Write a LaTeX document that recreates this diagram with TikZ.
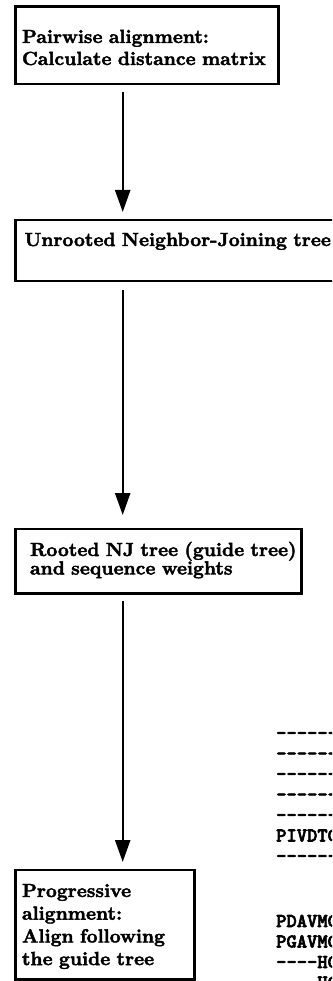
\documentclass[tikz,border=0pt]{standalone}
\usepackage{fontspec}
\newfontfamily\stepfont{lmroman10-bold}[Extension=.otf, FakeBold=2.2]
\newfontfamily\seqfont{lmmonolt10-bold}[Extension=.otf, Ligatures=TeXOff, FakeBold=3]
\usetikzlibrary{arrows.meta, positioning}

\begin{document}
\begin{tikzpicture}[
                        x=1pt, y=1pt,
                        stepbox/.style={
                                rectangle, draw, line width=2.6pt,
                                outer sep=0pt, inner ysep=0pt,
                                align=left,
                                font=\fontsize{19}{22}\selectfont\stepfont
                            },
                        flow/.style={-{Triangle[length=22pt, width=15pt]}, line width=2.4pt},
                        seq/.style={
                                anchor=base west, inner sep=0pt, text width=80pt,
                                align=left,
                                font=\fontsize{19.6}{20.5}\selectfont\seqfont
                            }
                    ]

                    % ===== Page frame =====
                    \path[use as bounding box, fill=white] (0,0) rectangle (332,-981);
                    \clip (0,0) rectangle (332,-981);

                    % ===== Steps (left column) =====
                    \node[stepbox, anchor=north west, inner xsep=6.5pt, text width=250pt,
                    text height=36.5pt, text depth=41pt] (pairwise) at (15.5,-6.5)
                    {Pairwise alignment:\\Calculate distance matrix};

                    \node[stepbox, below=136pt of pairwise.south west, anchor=north west,
                    inner xsep=9pt, text width=340pt,
                    text height=26pt, text depth=35pt] (njtree)
                    {Unrooted Neighbor-Joining tree};

                    \node[stepbox, below=248pt of njtree.south west, anchor=north west,
                    inner xsep=14.5pt, text width=257pt,
                    font=\fontsize{19}{18.5}\selectfont\stepfont,
                    text height=27pt, text depth=37.5pt] (guide)
                    {\mbox{Rooted NJ tree (guide tree)}\\and sequence weights};

                    \node[stepbox, below=276.5pt of guide.south west, anchor=north west,
                    inner xsep=6.5pt, text width=166pt,
                    font=\fontsize{19}{22.7}\selectfont\stepfont,
                    text height=27pt, text depth=82.5pt] (progressive)
                    {Progressive\\alignment:\\\mbox{Align following}\\the guide tree};

                    % ===== Arrows =====
                    \coordinate (spine) at (122.7,0);
                    \draw[flow, shorten <=8pt, shorten >=8pt] (pairwise.south -| spine) -- (njtree.north -| spine);
                    \draw[flow, shorten <=9pt, shorten >=14pt] (njtree.south -| spine) -- (guide.north -| spine);
                    \draw[flow, shorten <=7.5pt, shorten >=8pt] (guide.south -| spine) -- (progressive.north -| spine);

                    % ===== Alignment fragment (right edge) =====
                    \node[seq] (blockA) at (276,-739)
                    {------\\------\\------\\------\\------\\PIVDTC\\------};
                    \node[seq] (blockB) at (276,-927)
                    {PDAVMC\\PGAVMC\\----HC\\----HC};

                \end{tikzpicture}
\end{document}
